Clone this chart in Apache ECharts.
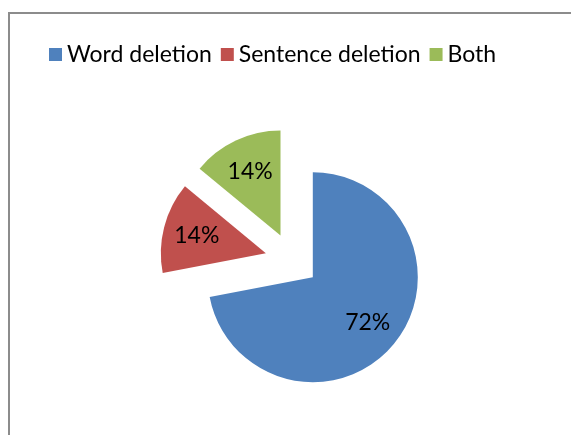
<!DOCTYPE html>
<html>
<head>
<meta charset="utf-8">
<script src="https://cdn.jsdelivr.net/npm/echarts@6/dist/echarts.min.js"></script>
<style>
  html, body { margin: 0; padding: 0; background: #fff; }
  #frame { position: absolute; left: 8px; top: 12px; width: 600px; height: 500px; border: 2px solid #8c8c8c; box-sizing: border-box; }
  #chart { position: absolute; left: 0; top: 0; width: 571px; height: 435px; }
</style>
</head>
<body>
<div id="frame"></div>
<div id="chart"></div>
<script>
var categories = ['Word deletion', 'Sentence deletion', 'Both']
var values = [72, 14, 14]
var colors = ['#4F81BD', '#C0504D', '#9BBB59']

var radius = 105
var total = values.reduce(function (a, b) { return a + b }, 0)

var chart = echarts.init(document.getElementById('chart'))
chart.setOption({
  animation: false,
  color: colors,
  legend: {
    top: 38,
    left: 44,
    itemWidth: 13,
    itemHeight: 13,
    itemGap: 9,
    icon: 'rect',
    textStyle: {
      fontFamily: 'Lato',
      fontSize: 23,
      color: '#000'
    },
    selectedMode: false,
    data: categories
  },
  series: [
    {
      type: 'pie',
      center: [292, 260],
      radius: radius,
      startAngle: 90,
      clockwise: true,
      selectedMode: 'multiple',
      selectedOffset: 27,
      silent: true,
      label: {
        show: true,
        position: 'inside',
        formatter: '{c}%',
        fontFamily: 'Lato',
        fontSize: 23,
        color: '#000'
      },
      labelLine: { show: false },
      // push labels a bit further out than the default mid-radius
      labelLayout: function (params) {
        var before = 0
        for (var i = 0; i < params.dataIndex; i++) before += values[i]
        var mid = (before + values[params.dataIndex] / 2) / total * Math.PI * 2
        var extra = radius * 0.15
        return { dx: extra * Math.sin(mid), dy: -extra * Math.cos(mid) }
      },
      emphasis: { disabled: true },
      data: categories.map(function (name, i) {
        return { name: name, value: values[i], selected: true }
      })
    }
  ]
})
</script>
</body>
</html>
